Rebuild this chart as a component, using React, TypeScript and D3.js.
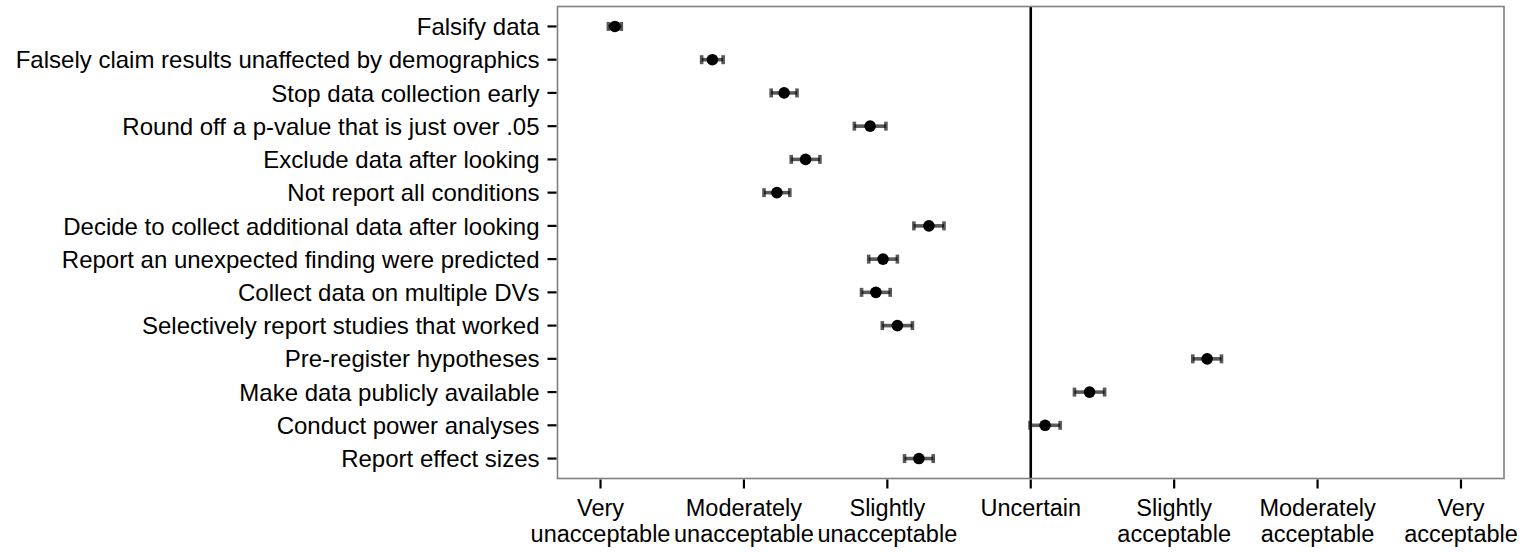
import React from "react";
import * as d3 from "d3";

// Practices, top to bottom
const practices = [
  "Falsify data",
  "Falsely claim results unaffected by demographics",
  "Stop data collection early",
  "Round off a p-value that is just over .05",
  "Exclude data after looking",
  "Not report all conditions",
  "Decide to collect additional data after looking",
  "Report an unexpected finding were predicted",
  "Collect data on multiple DVs",
  "Selectively report studies that worked",
  "Pre-register hypotheses",
  "Make data publicly available",
  "Conduct power analyses",
  "Report effect sizes",
];

// Mean acceptability rating (1 = very unacceptable ... 7 = very acceptable)
const means = [1.10, 1.78, 2.28, 2.88, 2.43, 2.23, 3.29, 2.97, 2.92, 3.07, 5.23, 4.41, 4.10, 3.22];

// Standard error of each mean
const errors = [0.045, 0.075, 0.09, 0.11, 0.10, 0.09, 0.105, 0.10, 0.10, 0.105, 0.10, 0.105, 0.105, 0.10];

// Rating scale tick labels (two lines each)
const scaleValues = [1, 2, 3, 4, 5, 6, 7];
const scaleLabels = [
  ["Very", "unacceptable"],
  ["Moderately", "unacceptable"],
  ["Slightly", "unacceptable"],
  ["Uncertain", ""],
  ["Slightly", "acceptable"],
  ["Moderately", "acceptable"],
  ["Very", "acceptable"],
];

const W = 1528;
const H = 552;
const panel = { left: 557.5, right: 1504, top: 6.5, bottom: 478.5 };
const FONT = "'Liberation Sans', Arial, sans-serif";
const FS_Y = 24;
const FS_X = 23.5;

export default function App() {
  const x = d3.scaleLinear().domain([0.7, 7.3]).range([panel.left, panel.right]);
  const y = d3
    .scalePoint<string>()
    .domain(practices)
    .range([panel.top, panel.bottom])
    .padding(0.6);

  const capH = 4.5;

  return (
    <svg
      width={W}
      height={H}
      style={{ position: "absolute", left: 0, top: 0, background: "#fff" }}
      fontFamily={FONT}
    >
      <rect x={0} y={0} width={W} height={H} fill="#fff" />
      {/* reference line at the neutral point */}
      <line
        x1={x(4)}
        x2={x(4)}
        y1={panel.top}
        y2={panel.bottom}
        stroke="#000"
        strokeWidth={2.6}
      />
      {/* error bars */}
      {practices.map((p, i) => {
        const cy = y(p)!;
        const lo = x(means[i] - errors[i]);
        const hi = x(means[i] + errors[i]);
        return (
          <g key={"e" + i} stroke="#000" strokeOpacity={0.65} strokeWidth={3.6}>
            <line x1={lo} x2={hi} y1={cy} y2={cy} />
            <line x1={lo} x2={lo} y1={cy - capH} y2={cy + capH} />
            <line x1={hi} x2={hi} y1={cy - capH} y2={cy + capH} />
          </g>
        );
      })}
      {/* means */}
      {practices.map((p, i) => (
        <circle key={"p" + i} cx={x(means[i])} cy={y(p)!} r={5.8} fill="#000" />
      ))}
      {/* panel border */}
      <rect
        x={panel.left}
        y={panel.top}
        width={panel.right - panel.left}
        height={panel.bottom - panel.top}
        fill="none"
        stroke="#7f7f7f"
        strokeWidth={1.6}
      />
      {/* y axis ticks and labels */}
      {practices.map((p) => (
        <g key={"y" + p}>
          <line
            x1={panel.left - 10}
            x2={panel.left - 1}
            y1={y(p)!}
            y2={y(p)!}
            stroke="#000"
            strokeWidth={2.2}
          />
          <text
            x={panel.left - 18}
            y={y(p)!}
            dy="0.36em"
            textAnchor="end"
            fontSize={FS_Y}
            fill="#000"
          >
            {p}
          </text>
        </g>
      ))}
      {/* x axis ticks and labels */}
      {scaleValues.map((v, i) => (
        <g key={"x" + v}>
          <line
            x1={x(v)}
            x2={x(v)}
            y1={panel.bottom + 1}
            y2={panel.bottom + 10}
            stroke="#000"
            strokeWidth={2.2}
          />
          <text x={x(v)} y={516} textAnchor="middle" fontSize={FS_X} fill="#000">
            {scaleLabels[i][0]}
          </text>
          <text x={x(v)} y={542} textAnchor="middle" fontSize={FS_X} fill="#000">
            {scaleLabels[i][1]}
          </text>
        </g>
      ))}
    </svg>
  );
}
